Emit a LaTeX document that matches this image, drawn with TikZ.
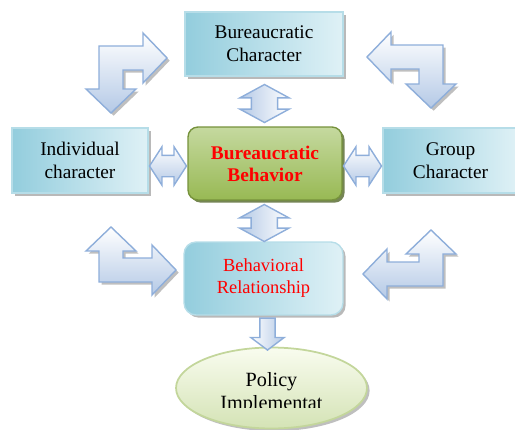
\documentclass[tikz,border=0pt]{standalone}
\usepackage{fontspec}
\setmainfont{Liberation Serif}
\usetikzlibrary{shadows,shapes.arrows,shapes.geometric,calc}

\definecolor{boxdark}{HTML}{93CDDD}
\definecolor{boxlight}{HTML}{DFF1F6}
\definecolor{boxline}{HTML}{B6DDE8}
\definecolor{arrowline}{HTML}{8EAEDA}
\definecolor{arrowfill}{HTML}{B4C9E6}
\definecolor{greenlight}{HTML}{C5D99F}
\definecolor{greendark}{HTML}{98B954}
\definecolor{greenline}{HTML}{76923C}
\definecolor{ovallight}{HTML}{F9FCEF}
\definecolor{ovaldark}{HTML}{D4E3B5}
\definecolor{ovalline}{HTML}{C3D69B}

% corner (#1,#2), tip of the level arm at x=#3, tip of the upright arm at y=#4, directions #5 #6
\newcommand*{\BentArrow}[6]{%
   \draw[bentarrow] ({#1-(#5)*12},{#2-(#6)*12}) -- ({#3-(#5)*24},{#2-(#6)*12})
      -- ({#3-(#5)*24},{#2-(#6)*25}) -- (#3,#2) -- ({#3-(#5)*24},{#2+(#6)*25})
      -- ({#3-(#5)*24},{#2+(#6)*12}) -- ({#1+(#5)*12},{#2+(#6)*12})
      -- ({#1+(#5)*12},{#4-(#6)*24}) -- ({#1+(#5)*25},{#4-(#6)*24}) -- (#1,#4)
      -- ({#1-(#5)*25},{#4-(#6)*24}) -- ({#1-(#5)*12},{#4-(#6)*24}) -- cycle;}

\begin{document}
\begin{tikzpicture}[x=0.02cm, y=-0.02cm,
    charbox/.style={rectangle, draw=boxline, line width=0.8pt, left color=boxdark, right color=boxlight,
      align=center, font=\fontsize{11}{13}\selectfont,
      drop shadow={shadow xshift=1.5pt, shadow yshift=-1.5pt, fill=black!50, opacity=0.55}},
    behavbox/.style={rectangle, rounded corners=0.2cm, draw=greenline, line width=0.8pt,
      top color=greenlight, bottom color=greendark, align=center, text=red,
      font=\fontsize{11}{12.5}\selectfont\bfseries,
      drop shadow={shadow xshift=1.5pt, shadow yshift=-1.5pt, fill=greenline!70!black, opacity=0.8}},
    oval/.style={ellipse, draw=ovalline, line width=1pt, top color=ovallight, bottom color=ovaldark,
      drop shadow={shadow xshift=1.5pt, shadow yshift=-1.5pt, fill=black!50, opacity=0.5}},
    bentarrow/.style={draw=arrowline, line width=0.8pt, top color=white, bottom color=arrowfill,
      drop shadow={shadow xshift=1.5pt, shadow yshift=-1.5pt, fill=black!50, opacity=0.5}},
    dblarrow/.style={double arrow, draw=arrowline, line width=0.8pt, inner xsep=0pt, minimum width=0pt},
    onearrow/.style={single arrow, draw=arrowline, line width=0.8pt, inner xsep=0pt, minimum width=0pt}]
    \useasboundingbox (0,0) rectangle (515,430);
    \clip (0,0) rectangle (515,430);

    \BentArrow{111}{58}{167}{113}{1}{1}
    \BentArrow{431}{57}{367}{108}{-1}{1}
    \BentArrow{111}{270}{176}{227}{1}{-1}
    \BentArrow{431}{274}{363}{230}{-1}{-1}

    \node[charbox, minimum width=3.16cm, minimum height=1.28cm] (bc) at (264,44) {Bureaucratic\\Character};
    \node[charbox, minimum width=2.72cm, minimum height=1.3cm] (ic) at (80,160.5) {Individual\\character};
    \node[charbox, minimum width=2.7cm, minimum height=1.3cm] (gc) at (450.5,160.5) {Group\\Character};
    \node[behavbox, minimum width=3.08cm, minimum height=1.46cm] (bb) at (265,163.5) {Bureaucratic\\Behavior};
    \node[charbox, rounded corners=0.24cm, text=red, font=\fontsize{10.5}{12.5}\selectfont,
      minimum width=3.18cm, minimum height=1.46cm] (br) at (263.5,278.5) {Behavioral\\Relationship};
    \node[oval, minimum width=3.82cm, minimum height=1.62cm] (pi) at (271.5,388) {};
    \begin{scope}
      \clip (150,340) rectangle (400,407);
      \node[align=center, font=\fontsize{11.5}{13}\selectfont] (pitext) at ($(pi.center)+(0,5)$) {Policy\\Implementat};
    \end{scope}

    \node[dblarrow, rotate=90, left color=arrowfill, right color=white, inner ysep=0.25cm,
      double arrow head extend=0.23cm, double arrow tip angle=123, minimum height=0.76cm]
      (a1) at ($(bc.south)!0.5!(bb.north)+(0,2)$) {};
    \node[dblarrow, rotate=90, left color=arrowfill, right color=white, inner ysep=0.25cm,
      double arrow head extend=0.23cm, double arrow tip angle=123, minimum height=0.74cm]
      (a2) at ($(bb.south)!0.5!(br.north)+(0,2)$) {};
    \node[dblarrow, top color=white, bottom color=arrowfill, inner ysep=0.2cm,
      double arrow head extend=0.17cm, double arrow tip angle=114, minimum height=0.74cm]
      (a3) at ($(ic.east)!0.5!(bb.west)+(0,4)$) {};
    \node[dblarrow, top color=white, bottom color=arrowfill, inner ysep=0.2cm,
      double arrow head extend=0.17cm, double arrow tip angle=114, minimum height=0.76cm]
      (a4) at ($(bb.east)!0.5!(gc.west)+(0,4)$) {};
    \node[onearrow, rotate=-90, left color=white, right color=arrowfill, inner ysep=0.14cm,
      single arrow head extend=0.18cm, single arrow tip angle=106, minimum height=0.64cm]
      (a5) at ($(br.south)!0.5!(pi.north)$) {};
\end{tikzpicture}
\end{document}
